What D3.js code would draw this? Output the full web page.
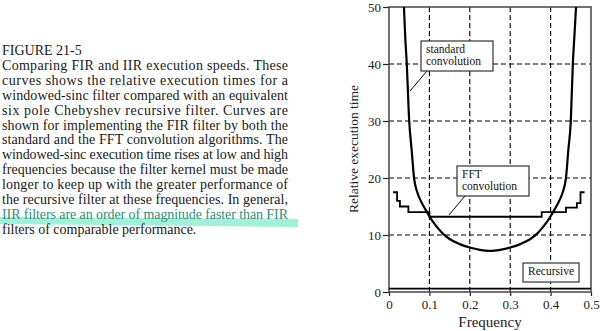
<!DOCTYPE html>
<html><head><meta charset="utf-8">
<script src="https://cdn.jsdelivr.net/npm/d3@7"></script>
<style>body{margin:0;background:#fff}svg{display:block}</style>
</head><body>
<svg id="c" width="600" height="331"></svg>
<script>
// ---- data ----
const xTicks = [0, 0.1, 0.2, 0.3, 0.4, 0.5];
const yTicks = [0, 10, 20, 30, 40, 50];
const xGrid = [0.1, 0.2, 0.3, 0.4];
const yGrid = [10, 20, 30, 40];
const stdFreq = [0.037,0.040,0.044,0.050,0.056,0.062,0.070,0.080,0.090,0.100,0.110,0.120,0.134,0.150,0.175,0.200,0.225,0.250,0.275,0.300,0.325,0.350,0.366,0.380,0.390,0.400,0.410,0.420,0.430,0.438,0.444,0.450,0.455,0.459,0.463];
const stdTime = [50,45,40,30,25,20,17.5,15.8,14.5,13.3,12.2,11.3,10.2,9.3,8.4,7.8,7.4,7.2,7.4,7.8,8.4,9.3,10.2,11.3,12.2,13.3,14.5,15.8,17.5,20,25,30,40,45,50];
const fftFreq = [0.010,0.020,0.027,0.048,0.100,0.378,0.438,0.465,0.474,0.484];
const fftTime = [17.5,16.0,15.0,14.0,13.2,14.0,14.8,15.6,17.5,17.5];
const recFreq = [0, 0.5];
const recTime = [0.6, 0.6];
const captionLines = [
  "FIGURE 21-5",
  "Comparing FIR and IIR execution speeds.  These",
  "curves shows the relative execution times for a",
  "windowed-sinc filter compared with an equivalent",
  "six pole Chebyshev recursive filter.  Curves are",
  "shown for implementing the FIR filter by both the",
  "standard and the FFT convolution algorithms. The",
  "windowed-sinc execution time rises at low and high",
  "frequencies because the filter kernel must be made",
  "longer to keep up with the greater performance of",
  "the recursive filter at these frequencies. In general,",
  "IIR filters are an order of magnitude faster than FIR",
  "filters of comparable performance."
];

const svg = d3.select("#c");
const serif = "'Liberation Serif','DejaVu Serif',serif";

// ---- caption ----
svg.append("polygon")
  .attr("points", "0,217 298,219 298,227 0,224")
  .attr("fill", "#8eeed2").attr("opacity", 0.85);
const cap = svg.append("g").attr("font-family", serif).attr("font-size", 14).attr("fill", "#1a1a1a");
captionLines.forEach((t, i) => {
  const tx = cap.append("text").attr("x", 2).attr("y", 55 + i * 14.9).text(t);
  if (i > 0 && i < captionLines.length - 1) {
    tx.attr("textLength", 286).attr("lengthAdjust", "spacing");
  }
  if (i === 11) tx.attr("fill", "#2f8f78");
});

// ---- chart ----
const x = d3.scaleLinear().domain([0, 0.5]).range([389, 591]);
const y = d3.scaleLinear().domain([0, 50]).range([292, 7]);

const g = svg.append("g");
g.selectAll(".vg").data(xGrid).join("line")
  .attr("x1", d => x(d)).attr("x2", d => x(d)).attr("y1", y(50)).attr("y2", y(0))
  .attr("stroke", "#000").attr("stroke-width", 1.1).attr("stroke-dasharray", "5,3");
g.selectAll(".hg").data(yGrid).join("line")
  .attr("x1", x(0)).attr("x2", x(0.5)).attr("y1", d => y(d)).attr("y2", d => y(d))
  .attr("stroke", "#000").attr("stroke-width", 1.1).attr("stroke-dasharray", "5,3");

const ax = g.append("g").attr("transform", `translate(0,${y(0)})`)
  .call(d3.axisBottom(x).tickValues(xTicks).tickSize(4).tickPadding(4).tickFormat(d => d === 0 ? "0" : d3.format(".1f")(d)));
const ay = g.append("g").attr("transform", `translate(${x(0)},0)`)
  .call(d3.axisLeft(y).tickValues(yTicks).tickSize(6).tickPadding(2).tickFormat(d3.format("d")));
[ax, ay].forEach(a => {
  a.select(".domain").remove();
  a.selectAll("line").attr("stroke", "#222").attr("stroke-width", 1.2);
  a.selectAll("text").attr("font-family", serif).attr("font-size", 13).attr("fill", "#222");
});
g.append("rect").attr("x", x(0)).attr("y", y(50)).attr("width", x(0.5) - x(0)).attr("height", y(0) - y(50))
  .attr("fill", "none").attr("stroke", "#444").attr("stroke-width", 1.5);

svg.append("clipPath").attr("id", "pc").append("rect")
  .attr("x", x(0)).attr("y", y(50)).attr("width", x(0.5) - x(0)).attr("height", y(0) - y(50));
const lineStd = d3.line().x(d => x(d[0])).y(d => y(d[1])).curve(d3.curveMonotoneX);
g.append("path").datum(stdFreq.map((f, i) => [f, stdTime[i]]))
  .attr("d", lineStd).attr("fill", "none").attr("stroke", "#000").attr("stroke-width", 2.2)
  .attr("clip-path", "url(#pc)");
const lineStep = d3.line().x(d => x(d[0])).y(d => y(d[1])).curve(d3.curveStepAfter);
g.append("path").datum(fftFreq.map((f, i) => [f, fftTime[i]]))
  .attr("d", lineStep).attr("fill", "none").attr("stroke", "#000").attr("stroke-width", 1.8);
g.append("path").datum(recFreq.map((f, i) => [f, recTime[i]]))
  .attr("d", d3.line().x(d => x(d[0])).y(d => y(d[1]))).attr("fill", "none").attr("stroke", "#000").attr("stroke-width", 1.8);

function box(bx, by, w, h, lines, lx1, ly1, lx2, ly2) {
  if (lx1 !== undefined) g.append("line").attr("x1", lx1).attr("y1", ly1).attr("x2", lx2).attr("y2", ly2)
    .attr("stroke", "#000").attr("stroke-width", 1);
  g.append("rect").attr("x", bx).attr("y", by).attr("width", w).attr("height", h)
    .attr("fill", "#fff").attr("stroke", "#333").attr("stroke-width", 1.2);
  lines.forEach((t, i) => g.append("text").attr("x", bx + 5).attr("y", by + 12 + i * 12)
    .attr("font-family", serif).attr("font-size", 11.5).attr("fill", "#111").text(t));
}
box(421, 41, 72, 30, ["standard", "convolution"], 427, 71, 410, 91);
box(457, 166, 72, 30, ["FFT", "convolution"], 465, 196, 449, 215);
box(523, 263, 56, 19, ["Recursive"]);

svg.append("text").attr("transform", `translate(358,149) rotate(-90)`).attr("text-anchor", "middle")
  .attr("font-family", serif).attr("font-size", 13.5).attr("fill", "#222").text("Relative execution time");
svg.append("text").attr("x", 490).attr("y", 327).attr("text-anchor", "middle")
  .attr("font-family", serif).attr("font-size", 15).attr("fill", "#222").text("Frequency");
</script>
</body></html>
